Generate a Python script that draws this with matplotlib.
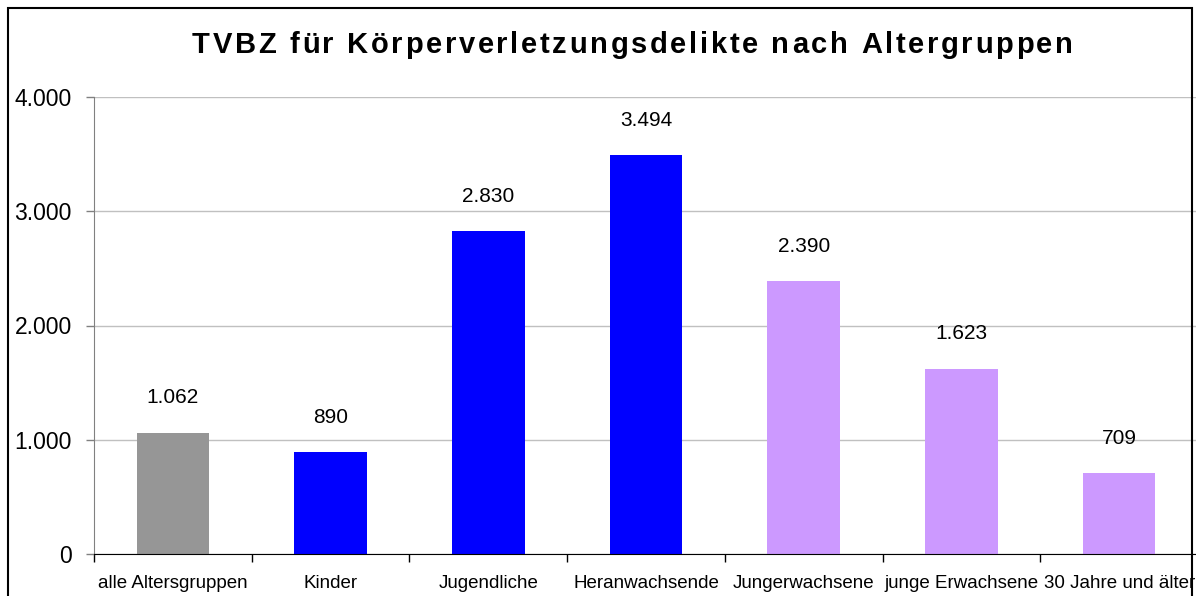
import matplotlib
matplotlib.use("Agg")
import matplotlib.pyplot as plt
from matplotlib.patches import Rectangle
from matplotlib.font_manager import FontProperties, findfont, get_font

# data
categories = ["alle Altersgruppen", "Kinder", "Jugendliche", "Heranwachsende",
              "Jungerwachsene", "junge Erwachsene", "30 Jahre und älter"]
values = [1062, 890, 2830, 3494, 2390, 1623, 709]
colors = ["#969696", "#0000FF", "#0000FF", "#0000FF", "#CC99FF", "#CC99FF", "#CC99FF"]
yticks = [0, 1000, 2000, 3000, 4000]
title = "TVBZ für Körperverletzungsdelikte nach Altergruppen"

W, H = 1196, 596
plt.rcParams['font.family'] = ['Liberation Sans', 'DejaVu Sans']

def de(v):
    return f"{v:,}".replace(",", ".")

fig = plt.figure(figsize=(W / 100, H / 100), dpi=100)
ax = fig.add_axes([94 / W, 42 / H, (1198 - 94) / W, 457 / H])

x = list(range(len(categories)))
ax.bar(x, values, width=0.46, color=colors, zorder=3)
for xi, v in zip(x, values):
    ax.annotate(de(v), (xi, v), xytext=(0, 21), textcoords="offset points",
                ha="center", va="baseline", fontsize=15)

ax.set_xlim(-0.5, len(categories) - 0.5)
ax.set_ylim(0, 4000)
ax.set_yticks(yticks)
ax.set_yticklabels([de(t) for t in yticks], fontsize=16.5)
ax.tick_params(axis="y", length=6, width=1, color="#808080", pad=10)
ax.yaxis.grid(True, color="#c0c0c0", linewidth=1, zorder=0)

ax.set_xticks(x)
ax.set_xticklabels(categories, fontsize=13.5)
ax.set_xticks([i - 0.5 for i in range(len(categories) + 1)], minor=True)
ax.tick_params(axis="x", which="major", length=0, pad=15)
ax.tick_params(axis="x", which="minor", length=6, width=1, color="black")

for s in ["top", "right"]:
    ax.spines[s].set_visible(False)
ax.spines["left"].set_color("#808080")
ax.spines["bottom"].set_color("black")
ax.spines["bottom"].set_zorder(4)

# outer chart border
fig.add_artist(Rectangle((8 / W, -0.1), (1192 - 8) / W, (H - 8) / H + 0.1,
                         transform=fig.transFigure, fill=False,
                         edgecolor="black", linewidth=1.5))

# title with letter spacing, drawn char by char
tsize = 21
prop = FontProperties(family="Liberation Sans", weight="bold", size=tsize)
font = get_font(findfont(prop))
font.set_size(tsize, 100)
adv = [font.load_char(ord(c)).linearHoriAdvance / 65536 for c in title]
x0, x1, base = 192, 1073, 53
spacing = (x1 - x0 - sum(adv)) / (len(title) - 1)
px = x0
for c, a in zip(title, adv):
    fig.text(px / W, (H - base) / H, c, fontproperties=prop,
             ha="left", va="baseline")
    px += a + spacing

fig.savefig("out.png", dpi=100)
